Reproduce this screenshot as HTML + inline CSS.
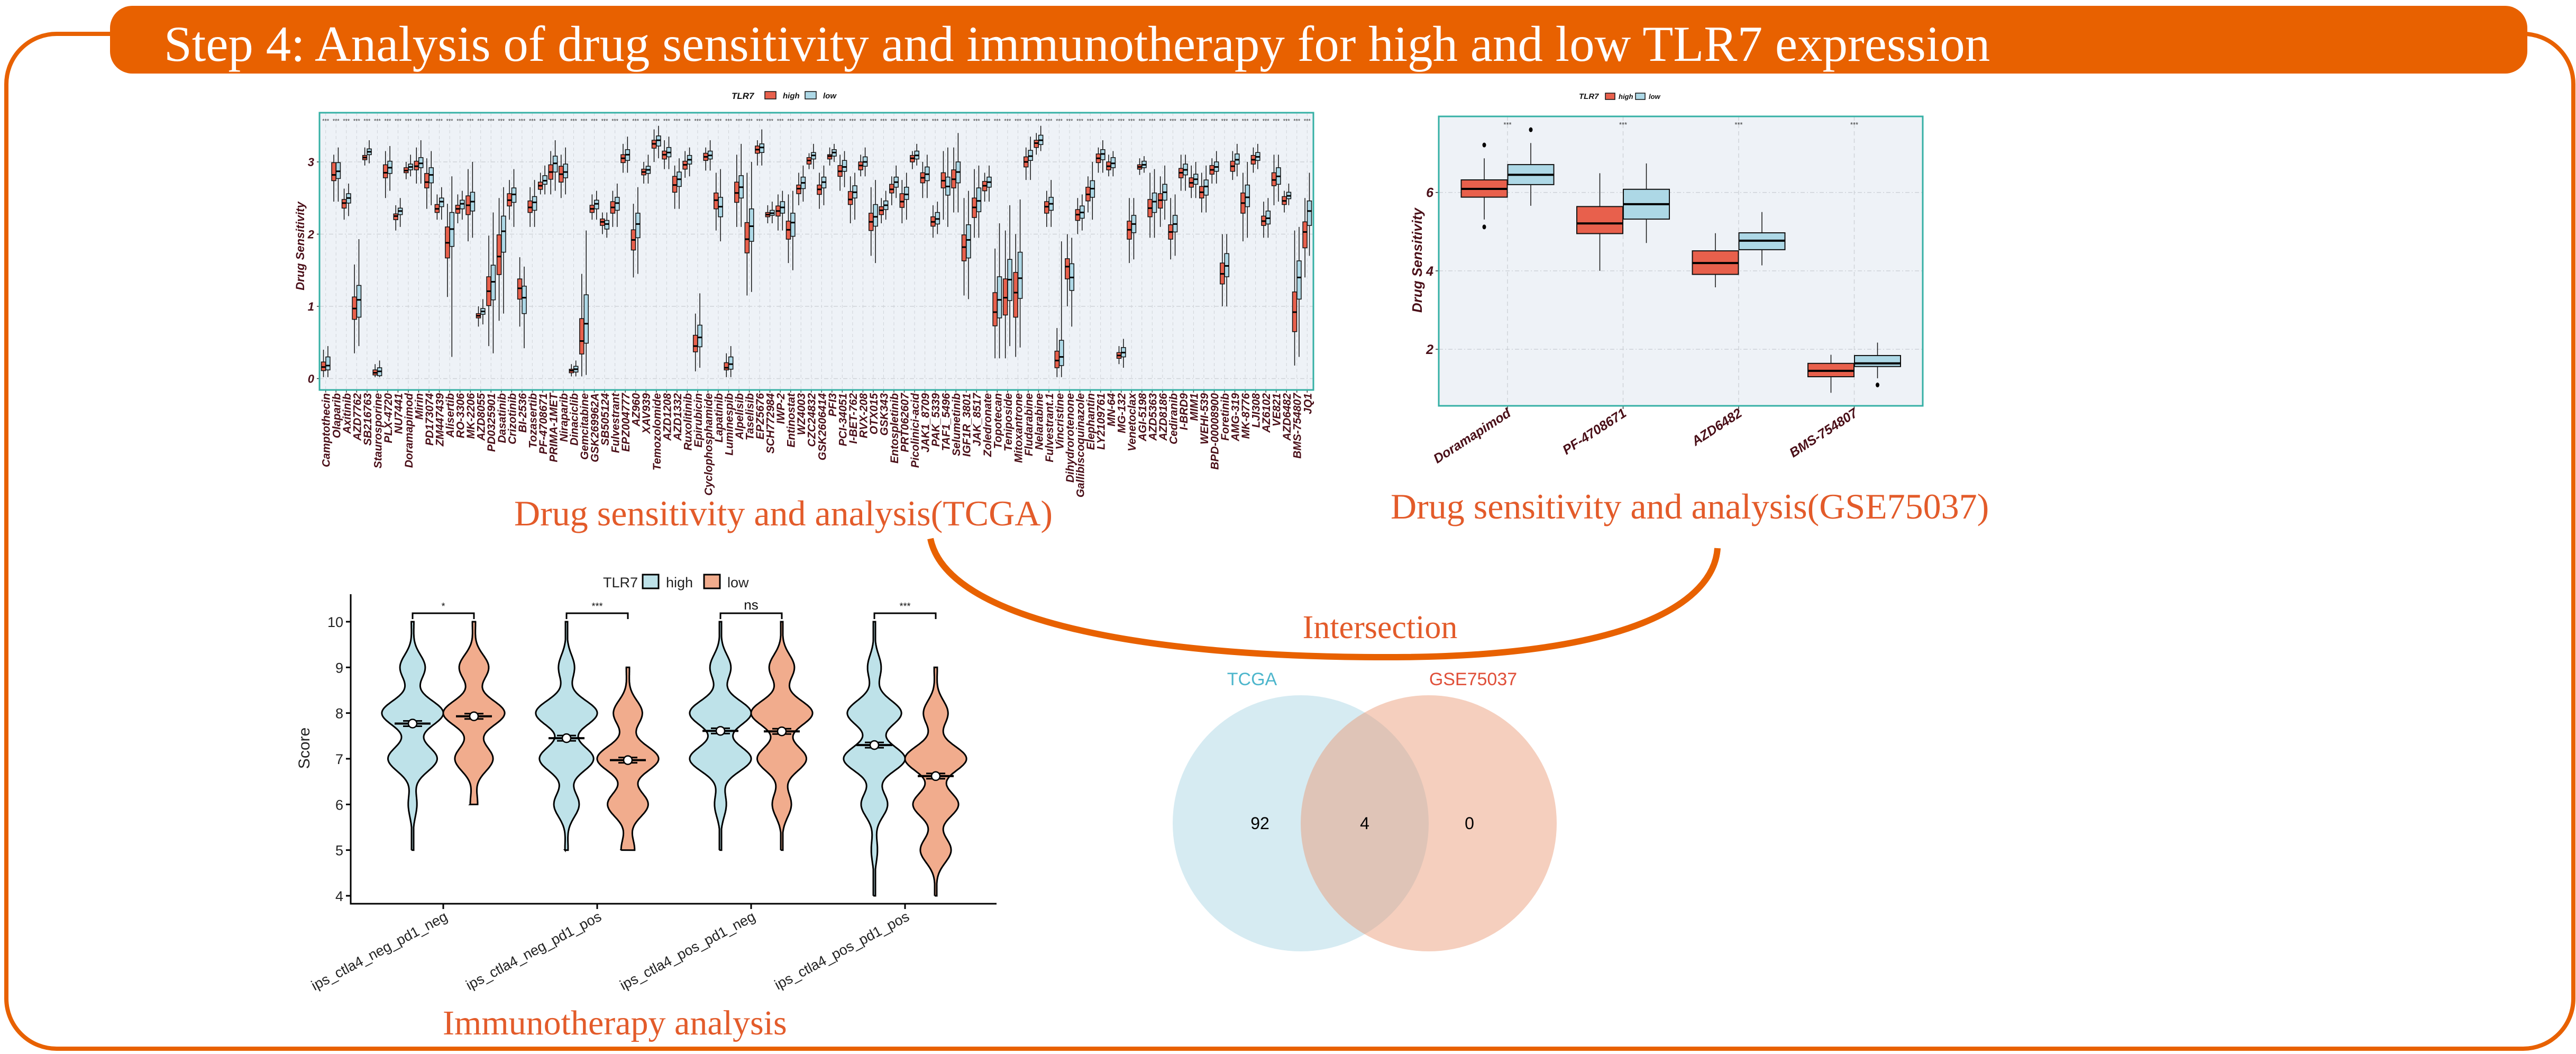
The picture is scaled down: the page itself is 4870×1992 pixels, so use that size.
<!DOCTYPE html>
<html><head><meta charset="utf-8"><title>Step 4 drug sensitivity and immunotherapy</title>
<style>html,body{margin:0;padding:0;background:#fff;}svg{display:block;}</style></head>
<body>
<svg id="fig" xmlns="http://www.w3.org/2000/svg" width="4870" height="1992" viewBox="0 0 4870 1992">
  <rect x="12" y="64" width="4853" height="1918" rx="95" ry="95" fill="none" stroke="#E86100" stroke-width="8"/>
  <rect x="208" y="11" width="4570" height="128" rx="42" ry="42" fill="#E86100"/>
  <text x="310" y="115" font-family="'Liberation Serif', serif" font-size="95" fill="#fff">Step 4: Analysis of drug sensitivity and immunotherapy for high and low TLR7 expression</text>

  <g id="tcga"></g>
  <g id="gse"></g>
  <g id="violin"></g>

  <text x="972" y="993" font-family="'Liberation Serif', serif" font-size="68" fill="#E35B2A">Drug sensitivity and analysis(TCGA)</text>
  <text x="2629" y="980" font-family="'Liberation Serif', serif" font-size="68" fill="#E35B2A">Drug sensitivity and analysis(GSE75037)</text>
  <text x="837" y="1955" font-family="'Liberation Serif', serif" font-size="66" fill="#E35B2A">Immunotherapy analysis</text>

  <path d="M1759,1018 C1790,1170 2150,1244 2640,1242 C3080,1240 3240,1140 3247,1036" fill="none" stroke="#E86100" stroke-width="12"/>
  <text x="2609" y="1206" text-anchor="middle" font-family="'Liberation Serif', serif" font-size="62" fill="#E35B2A">Intersection</text>

  <g>
    <circle cx="2459" cy="1556" r="242" fill="#D6EBF2"/>
    <circle cx="2701" cy="1556" r="242" fill="rgb(233,150,114)" fill-opacity="0.46"/>
    <text x="2367" y="1295" text-anchor="middle" font-family="'Liberation Sans', sans-serif" font-size="34" fill="#4DB6CC">TCGA</text>
    <text x="2785" y="1295" text-anchor="middle" font-family="'Liberation Sans', sans-serif" font-size="34" fill="#E0503A">GSE75037</text>
    <text x="2382" y="1567" text-anchor="middle" font-family="'Liberation Sans', sans-serif" font-size="32" fill="#000">92</text>
    <text x="2580" y="1567" text-anchor="middle" font-family="'Liberation Sans', sans-serif" font-size="32" fill="#000">4</text>
    <text x="2778" y="1567" text-anchor="middle" font-family="'Liberation Sans', sans-serif" font-size="32" fill="#000">0</text>
  </g>
</svg>
<script>
// ---------- TCGA data ----------
const drugs = ["Camptothecin","Olaparib","Axitinib","AZD7762","SB216763","Staurosporine","PLX-4720","NU7441","Doramapimod","Mirin","PD173074","ZM447439","Alisertib","RO-3306","MK-2206","AZD8055","PD0325901","Dasatinib","Crizotinib","BI-2536","Tozasertib","PF-4708671","PRIMA-1MET","Niraparib","Dinaciclib","Gemcitabine","GSK269962A","SB505124","Fulvestrant","EPZ004777","AZ960","XAV939","Temozolomide","AZD1208","AZD1332","Ruxolitinib","Epirubicin","Cyclophosphamide","Lapatinib","Luminespib","Alpelisib","Taselisib","EPZ5676","SCH772984","IWP-2","Entinostat","WZ4003","CZC24832","GSK2606414","PFI3","PCI-34051","I-BET-762","RVX-208","OTX015","GSK343","Entospletinib","PRT062607","Picolinici-acid","JAK1_8709","PAK_5339","TAF1_5496","Selumetinib","IGF1R_3801","JAK_8517","Zoledronate","Topotecan","Teniposide","Mitoxantrone","Fludarabine","Nelarabine","Fulvestrant.1","Vincristine","Dihydrorotenone","Gallibiscoquinazole","Elephantin","LY2109761","MN-64","MG-132","Venetoclax","AGI-5198","AZD5363","AZD8186","Cediranib","I-BRD9","MIM1","WEHI-539","BPD-00008900","Foretinib","AMG-319","MK-8776","LJI308","AZ6102","VE821","AZD6482","BMS-754807","JQ1"];
const highMed = [0.16,2.82,2.43,0.97,3.06,0.08,2.85,2.25,2.88,2.94,2.72,2.35,1.88,2.35,2.4,0.87,1.21,1.69,2.47,1.25,2.37,2.67,2.86,2.83,0.11,0.52,2.35,2.17,2.37,3.05,1.92,2.86,3.25,3.1,2.68,2.96,0.45,3.07,2.47,0.15,2.57,1.93,3.17,2.27,2.32,2.06,2.63,3.02,2.62,3.08,2.87,2.48,2.95,2.17,2.33,2.62,2.45,3.05,2.78,2.17,2.74,2.76,1.82,2.37,2.67,0.92,1.12,1.19,3.0,3.26,2.38,0.25,1.55,2.27,2.55,3.05,2.94,0.32,2.06,2.93,2.36,2.47,2.03,2.85,2.71,2.58,2.89,1.45,2.94,2.43,3.03,2.18,2.75,2.46,0.92,2.03];
const highQ1 = [0.11,2.74,2.36,0.82,3.03,0.05,2.78,2.2,2.85,2.89,2.64,2.3,1.67,2.29,2.27,0.84,1.01,1.44,2.39,1.1,2.3,2.62,2.76,2.72,0.08,0.34,2.3,2.12,2.29,2.99,1.78,2.82,3.19,3.04,2.58,2.9,0.37,3.02,2.35,0.12,2.44,1.74,3.12,2.24,2.25,1.93,2.56,2.97,2.55,3.04,2.8,2.41,2.89,2.05,2.27,2.57,2.37,3.0,2.71,2.11,2.64,2.64,1.63,2.23,2.6,0.73,0.88,0.85,2.93,3.2,2.29,0.15,1.38,2.19,2.46,2.99,2.89,0.28,1.93,2.9,2.24,2.36,1.93,2.78,2.65,2.5,2.83,1.31,2.87,2.29,2.97,2.12,2.67,2.41,0.65,1.81];
const highQ3 = [0.23,2.99,2.48,1.13,3.09,0.12,2.96,2.28,2.92,3.01,2.84,2.41,2.1,2.4,2.53,0.9,1.41,1.99,2.56,1.38,2.46,2.72,2.96,2.94,0.13,0.83,2.4,2.21,2.45,3.1,2.06,2.9,3.3,3.15,2.8,3.01,0.6,3.12,2.57,0.22,2.72,2.16,3.22,2.3,2.39,2.18,2.68,3.06,2.68,3.1,2.95,2.59,3.0,2.29,2.38,2.69,2.56,3.09,2.85,2.24,2.85,2.89,1.99,2.5,2.73,1.19,1.38,1.47,3.07,3.3,2.45,0.38,1.66,2.34,2.65,3.11,3.0,0.36,2.18,2.96,2.48,2.56,2.13,2.91,2.78,2.66,2.95,1.6,3.01,2.57,3.09,2.25,2.85,2.52,1.2,2.17];
const highLo = [0.02,2.45,2.2,0.35,2.95,0.02,2.5,2.05,2.76,2.7,2.35,2.2,1.13,2.15,1.9,0.72,0.45,0.8,2.2,0.72,2.1,2.55,2.55,2.5,0.03,0.03,2.2,2.0,2.1,2.85,1.4,2.7,3.0,2.9,2.35,2.78,0.1,2.88,2.05,0.02,2.1,1.15,2.95,2.15,2.05,1.6,2.4,2.9,2.35,2.95,2.6,2.15,2.8,1.7,2.15,2.4,2.15,2.9,2.5,1.95,2.2,2.3,1.15,1.95,2.45,0.28,0.28,0.3,2.75,3.1,2.1,0.02,1.0,2.0,2.3,2.85,2.8,0.2,1.6,2.82,1.95,2.1,1.65,2.6,2.5,2.3,2.7,1.0,2.75,1.9,2.85,1.95,2.4,2.3,0.18,1.4];
const highHi = [0.4,3.1,2.63,1.58,3.2,0.2,3.15,2.4,3.0,3.2,3.05,2.55,2.42,2.55,2.9,1.0,1.98,2.5,2.75,1.68,2.65,2.85,3.15,3.1,0.2,1.45,2.55,2.3,2.6,3.25,2.42,3.0,3.45,3.3,2.95,3.15,0.9,3.2,2.85,0.35,3.1,2.85,3.3,2.4,2.55,2.55,2.85,3.12,2.85,3.2,3.1,2.8,3.1,2.65,2.5,2.8,2.75,3.15,3.0,2.4,3.15,3.2,2.5,2.9,2.85,1.8,2.05,2.0,3.2,3.4,2.6,0.7,2.0,2.5,2.8,3.2,3.1,0.45,2.5,3.05,2.85,2.8,2.5,3.1,2.95,2.85,3.05,2.0,3.15,2.85,3.2,2.45,3.1,2.6,2.05,2.5];
const lowMed = [0.18,2.87,2.5,1.09,3.14,0.1,2.92,2.32,2.93,2.98,2.82,2.45,2.07,2.42,2.45,0.93,1.34,2.04,2.55,1.12,2.44,2.74,2.98,2.86,0.13,0.76,2.42,2.14,2.43,3.1,2.14,2.89,3.3,3.13,2.76,3.03,0.57,3.09,2.38,0.2,2.65,2.11,3.2,2.29,2.37,2.16,2.71,3.09,2.72,3.13,2.93,2.58,3.0,2.24,2.4,2.72,2.55,3.09,2.83,2.21,2.66,2.86,1.92,2.46,2.72,1.09,1.37,1.39,3.08,3.3,2.42,0.3,1.4,2.3,2.63,3.11,2.98,0.36,2.14,2.96,2.45,2.58,2.14,2.89,2.76,2.66,2.93,1.56,3.03,2.51,3.07,2.22,2.8,2.53,1.4,2.32];
const lowQ1 = [0.12,2.77,2.43,0.85,3.1,0.04,2.84,2.27,2.89,2.92,2.71,2.38,1.83,2.35,2.32,0.89,1.09,1.75,2.44,0.9,2.33,2.69,2.86,2.78,0.09,0.49,2.35,2.07,2.33,3.02,1.95,2.84,3.22,3.07,2.66,2.97,0.44,3.04,2.24,0.13,2.5,1.9,3.13,2.26,2.29,1.97,2.63,3.04,2.64,3.08,2.87,2.5,2.94,2.11,2.34,2.65,2.48,3.04,2.74,2.14,2.54,2.71,1.67,2.31,2.65,0.84,1.08,1.11,3.02,3.24,2.33,0.18,1.22,2.22,2.51,3.03,2.92,0.3,2.02,2.92,2.3,2.47,2.03,2.82,2.69,2.54,2.87,1.41,2.97,2.38,3.02,2.14,2.69,2.49,1.1,2.12];
const lowQ3 = [0.3,2.99,2.56,1.29,3.18,0.15,3.01,2.36,2.97,3.06,2.92,2.5,2.3,2.47,2.58,0.97,1.57,2.25,2.64,1.28,2.52,2.81,3.08,2.97,0.17,1.16,2.47,2.19,2.51,3.17,2.29,2.94,3.36,3.2,2.86,3.09,0.74,3.15,2.51,0.3,2.81,2.35,3.25,2.33,2.45,2.29,2.79,3.13,2.79,3.17,3.02,2.67,3.07,2.41,2.46,2.79,2.65,3.15,2.93,2.3,2.79,3.0,2.13,2.64,2.79,1.41,1.65,1.75,3.16,3.37,2.51,0.53,1.59,2.39,2.74,3.17,3.06,0.43,2.26,3.01,2.57,2.69,2.26,2.97,2.83,2.75,3.0,1.73,3.11,2.68,3.13,2.32,2.92,2.58,1.63,2.46];
const lowLo = [0.02,2.45,2.25,0.45,2.98,0.02,2.6,2.1,2.8,2.7,2.4,2.2,0.3,2.2,1.95,0.75,0.35,0.9,2.1,0.42,2.1,2.55,2.6,2.55,0.03,0.05,2.2,1.95,2.1,2.85,1.45,2.7,3.05,2.9,2.35,2.8,0.15,2.88,1.9,0.02,2.1,1.2,2.95,2.15,2.05,1.5,2.45,2.9,2.4,3.0,2.65,2.2,2.8,1.6,2.2,2.5,2.2,2.95,2.5,2.0,2.1,2.3,1.1,1.95,2.45,0.28,0.45,0.43,2.75,3.15,2.1,0.02,0.72,2.05,2.2,2.85,2.8,0.15,1.65,2.85,1.95,2.2,1.7,2.6,2.5,2.3,2.7,1.0,2.8,1.95,2.9,1.95,2.45,2.4,0.3,1.7];
const lowHi = [0.45,3.2,2.7,1.93,3.3,0.25,3.22,2.5,3.1,3.3,3.15,2.65,2.8,2.6,3.0,1.1,2.3,2.65,2.9,1.55,2.75,2.95,3.3,3.2,0.25,2.05,2.6,2.3,2.7,3.35,2.65,3.1,3.5,3.35,3.05,3.2,1.18,3.3,2.9,0.45,3.25,3.0,3.45,2.45,2.6,2.6,2.95,3.25,2.95,3.25,3.15,2.85,3.2,2.75,2.6,2.95,2.85,3.25,3.1,2.45,3.2,3.4,2.6,2.95,2.95,2.15,2.4,2.48,3.35,3.5,2.75,1.9,1.95,2.55,3.0,3.3,3.15,0.55,2.5,3.08,2.9,2.95,2.55,3.1,3.0,2.95,3.15,2.0,3.25,3.0,3.25,2.5,3.1,2.7,2.1,2.85];
const tcgaTicks = [0,1,2,3];

// ---------- GSE75037 data ----------
const gseDrugs = ["Doramapimod","PF-4708671","AZD6482","BMS-754807"];
const gHighLo = [5.31,4.0,3.58,0.89], gHighQ1 = [5.88,4.95,3.91,1.3], gHighMed = [6.09,5.21,4.2,1.45], gHighQ3 = [6.32,5.64,4.51,1.64], gHighHi = [6.87,6.49,4.96,1.86];
const gLowLo = [5.66,4.71,4.14,1.26], gLowQ1 = [6.2,5.32,4.54,1.56], gLowMed = [6.45,5.7,4.77,1.64], gLowQ3 = [6.71,6.08,4.97,1.84], gLowHi = [7.26,6.74,5.5,2.17];
const gHighOut = [[7.21,5.12],[],[],[]], gLowOut = [[7.6],[],[],[1.09]];
const gseTicks = [2,4,6];

// ---------- Violin data ----------
const ipsGroups = ["ips_ctla4_neg_pd1_neg","ips_ctla4_neg_pd1_pos","ips_ctla4_pos_pd1_neg","ips_ctla4_pos_pd1_pos"];
const scoreLevels = [4,5,6,7,8,9,10];
const densHigh = [[0,0.03,0.14,0.8,1,0.41,0.04],[0,0.05,0.41,0.88,1,0.26,0.03],[0,0.02,0.19,1,1,0.34,0.03],[0.02,0.1,0.43,1,0.88,0.22,0.03]];
const densLow  = [[0,0,0.12,0.62,1,0.48,0.05],[0,0.22,0.66,1,0.47,0.05,0],[0,0.02,0.31,0.8,1,0.41,0.03],[0.03,0.5,0.74,1,0.4,0.05,0]];
const rangeHigh = [[5,10],[5,10],[5,10],[4,10]];
const rangeLow  = [[6,10],[5,9],[5,10],[4,9]];
const meanHigh = [7.77,7.45,7.61,7.3];
const meanLow  = [7.93,6.97,7.6,6.62];
const sigLabels = ["*","***","ns","***"];
const scoreTicks = [4,5,6,7,8,9,10];

const NS = "http://www.w3.org/2000/svg";
function mk(tag, attrs, parent){ const e=document.createElementNS(NS,tag); for(const k in attrs) e.setAttribute(k,attrs[k]); parent.appendChild(e); return e; }
const RED="#E8604C", BLUE="#ADD8E6", MAROON="#4A0F18";

// ===== TCGA boxplot =====
(function(){
  const g=document.getElementById("tcga");
  const L=604,R=2483,T=213,B=737;
  const n=drugs.length, step=(R-L)/(n+0.2);
  const xs=i=>L+(i+0.6)*step;
  const ys=v=>715.5-136.5*v;
  let e=mk("rect",{x:L,y:T,width:R-L,height:B-T,fill:"#EEF2F7"},g);
   
  tcgaTicks.forEach(t=>{
    let l=mk("line",{x1:L,x2:R,y1:ys(t),y2:ys(t),stroke:"#cfd3d8","stroke-width":1.5,"stroke-dasharray":"8,4,2,4"},g);
     
    let tk=mk("line",{x1:L-5,x2:L,y1:ys(t),y2:ys(t),stroke:"#333","stroke-width":1.5},g);
     
    let tx=mk("text",{x:L-10,y:ys(t)+8,"text-anchor":"end","font-family":"'Liberation Sans',sans-serif","font-size":22,"font-weight":"bold","font-style":"italic",fill:MAROON},g);
    tx.textContent=t;  
  });
  drugs.forEach((d,i)=>{
    const cx=xs(i);
    let gl=mk("line",{x1:cx,x2:cx,y1:T,y2:B,stroke:"#cfd3d8","stroke-width":1,"stroke-dasharray":"6,5"},g);
     
    let st=mk("text",{x:cx,y:232,"text-anchor":"middle","font-family":"'Liberation Sans',sans-serif","font-size":11,fill:"#333"},g);
    st.textContent="***";  
    const sets=[[highLo,highQ1,highMed,highQ3,highHi,RED,-4.2,'high'],[lowLo,lowQ1,lowMed,lowQ3,lowHi,BLUE,4.2,'low']];
    sets.forEach(s=>{
      const bx=cx+s[6], w=8;
      let wh=mk("line",{x1:bx,x2:bx,y1:ys(s[4][i]),y2:ys(s[0][i]),stroke:"#111","stroke-width":1.5},g);
       
      let bb=mk("rect",{x:bx-w/2,y:ys(s[3][i]),width:w,height:Math.max(1,ys(s[1][i])-ys(s[3][i])),fill:s[5],stroke:"#111","stroke-width":1.5},g);
       
      let md=mk("line",{x1:bx-w/2,x2:bx+w/2,y1:ys(s[2][i]),y2:ys(s[2][i]),stroke:"#000","stroke-width":3},g);
       
    });
    let tk=mk("line",{x1:cx,x2:cx,y1:B,y2:B+5,stroke:"#333","stroke-width":1.5},g);
     
    let lb=mk("text",{x:0,y:0,transform:`translate(${cx+8},${B+6}) rotate(-90)`,"text-anchor":"end","font-family":"'Liberation Sans',sans-serif","font-size":21,"font-weight":"bold","font-style":"italic",fill:MAROON},g);
    lb.textContent=d;  
  });
  let fr=mk("rect",{x:L,y:T,width:R-L,height:B-T,fill:"none",stroke:"#35B0A5","stroke-width":3},g);
   
  let yl=mk("text",{x:0,y:0,transform:`translate(575,465) rotate(-90)`,"text-anchor":"middle","font-family":"'Liberation Sans',sans-serif","font-size":22,"font-weight":"bold","font-style":"italic",fill:MAROON},g);
  yl.textContent="Drug Sensitivity";  
  let lt=mk("text",{x:1383,y:187,"font-family":"'Liberation Sans',sans-serif","font-size":17,"font-weight":"bold","font-style":"italic",fill:"#111"},g);
  lt.textContent="TLR7";  
  [[1446,RED,'high',1480],[1522,BLUE,'low',1556]].forEach(s=>{
    let r=mk("rect",{x:s[0],y:173,width:21,height:14,fill:s[1],stroke:"#111","stroke-width":1.5},g);
     
    let t=mk("text",{x:s[3],y:186,"font-family":"'Liberation Sans',sans-serif","font-size":15,"font-weight":"bold","font-style":"italic",fill:"#111"},g);
    t.textContent=s[2];  
  });
})();

// ===== GSE boxplot =====
(function(){
  const g=document.getElementById("gse");
  const L=2720,R=3635,T=220,B=767;
  const xs=i=>2850+i*218.5;
  const ys=v=>363.7+(6-v)*74.1;
  let e=mk("rect",{x:L,y:T,width:R-L,height:B-T,fill:"#EEF2F7"},g);
   
  gseTicks.forEach(t=>{
    let l=mk("line",{x1:L,x2:R,y1:ys(t),y2:ys(t),stroke:"#cfd3d8","stroke-width":1.5,"stroke-dasharray":"8,4,2,4"},g);
     
    let tk=mk("line",{x1:L-6,x2:L,y1:ys(t),y2:ys(t),stroke:"#333","stroke-width":1.5},g);
     
    let tx=mk("text",{x:L-10,y:ys(t)+9,"text-anchor":"end","font-family":"'Liberation Sans',sans-serif","font-size":25,"font-weight":"bold","font-style":"italic",fill:MAROON},g);
    tx.textContent=t;  
  });
  gseDrugs.forEach((d,i)=>{
    const cx=xs(i);
    let gl=mk("line",{x1:cx,x2:cx,y1:T,y2:B,stroke:"#cfd3d8","stroke-width":1.5,"stroke-dasharray":"8,6"},g);
     
    let st=mk("text",{x:cx,y:240,"text-anchor":"middle","font-family":"'Liberation Sans',sans-serif","font-size":13,fill:"#333"},g);
    st.textContent="***";  
    const sets=[[gHighLo,gHighQ1,gHighMed,gHighQ3,gHighHi,RED,-44,'high',gHighOut],[gLowLo,gLowQ1,gLowMed,gLowQ3,gLowHi,BLUE,44,'low',gLowOut]];
    sets.forEach(s=>{
      const bx=cx+s[6], w=87;
      let wh=mk("line",{x1:bx,x2:bx,y1:ys(s[4][i]),y2:ys(s[0][i]),stroke:"#111","stroke-width":1.5},g);
       
      let bb=mk("rect",{x:bx-w/2,y:ys(s[3][i]),width:w,height:ys(s[1][i])-ys(s[3][i]),fill:s[5],stroke:"#111","stroke-width":2},g);
       
      let md=mk("line",{x1:bx-w/2,x2:bx+w/2,y1:ys(s[2][i]),y2:ys(s[2][i]),stroke:"#000","stroke-width":4},g);
       
      s[8][i].forEach(o=>{
        let c=mk("ellipse",{cx:bx,cy:ys(o),rx:3.5,ry:4.5,fill:"#000"},g);
         
      });
    });
    let tk=mk("line",{x1:cx,x2:cx,y1:B,y2:B+6,stroke:"#333","stroke-width":1.5},g);
     
    let lb=mk("text",{x:0,y:0,transform:`translate(${cx+8},${B+18}) rotate(-33)`,"text-anchor":"end","font-family":"'Liberation Sans',sans-serif","font-size":25,"font-weight":"bold","font-style":"italic",fill:MAROON},g);
    lb.textContent=d;  
  });
  let fr=mk("rect",{x:L,y:T,width:R-L,height:B-T,fill:"none",stroke:"#35B0A5","stroke-width":3},g);
   
  let yl=mk("text",{x:0,y:0,transform:`translate(2688,492) rotate(-90)`,"text-anchor":"middle","font-family":"'Liberation Sans',sans-serif","font-size":26,"font-weight":"bold","font-style":"italic",fill:MAROON},g);
  yl.textContent="Drug Sensitivity";  
  let lt=mk("text",{x:2985,y:187,"font-family":"'Liberation Sans',sans-serif","font-size":15,"font-weight":"bold","font-style":"italic",fill:"#111"},g);
  lt.textContent="TLR7";  
  [[3035,RED,'high',3060],[3092,BLUE,'low',3117]].forEach(s=>{
    let r=mk("rect",{x:s[0],y:176,width:18,height:12,fill:s[1],stroke:"#111","stroke-width":1.5},g);
     
    let t=mk("text",{x:s[3],y:187,"font-family":"'Liberation Sans',sans-serif","font-size":13,"font-weight":"bold","font-style":"italic",fill:"#111"},g);
    t.textContent=s[2];  
  });
})();

// ===== Violin plot =====
(function(){
  const g=document.getElementById("violin");
  const L=663,B=1708,R=1884,T=1123;
  const ys=v=>1175+(10-v)*86.33;
  const xc=i=>838+i*291;
  const maxHalf=58, sig=0.28;
  function half(dens,y){ let s=0; scoreLevels.forEach((k,j)=>{ s+=dens[j]*Math.exp(-((y-k)*(y-k))/(2*sig*sig)); }); return Math.max(2,s*maxHalf); }
  function violinPath(cx,dens,rg){
    const pts=[]; for(let y=rg[0]; y<=rg[1]+1e-9; y+=0.02) pts.push([y,half(dens,y)]);
    let d="M"+(cx-pts[0][1])+","+ys(pts[0][0]);
    pts.forEach(p=>{ d+=" L"+(cx-p[1]).toFixed(1)+","+ys(p[0]).toFixed(1); });
    for(let k=pts.length-1;k>=0;k--){ d+=" L"+(cx+pts[k][1]).toFixed(1)+","+ys(pts[k][0]).toFixed(1); }
    return d+" Z";
  }
  scoreTicks.forEach(t=>{
    let tk=mk("line",{x1:L-9,x2:L,y1:ys(t),y2:ys(t),stroke:"#000","stroke-width":3},g);
     
    let tx=mk("text",{x:L-14,y:ys(t)+10,"text-anchor":"end","font-family":"'Liberation Sans',sans-serif","font-size":27,fill:"#222"},g);
    tx.textContent=t;  
  });
  ipsGroups.forEach((name,i)=>{
    const hx=xc(i)-58, lx=xc(i)+58;
    let vh=mk("path",{d:violinPath(hx,densHigh[i],rangeHigh[i]),fill:"#BEE2E9",stroke:"#000","stroke-width":3},g);
     
    let vl=mk("path",{d:violinPath(lx,densLow[i],rangeLow[i]),fill:"#F1AC8D",stroke:"#000","stroke-width":3},g);
     
    [[hx,meanHigh[i],'high'],[lx,meanLow[i],'low']].forEach(m=>{
      const y=ys(m[1]);
      let eb=mk("path",{d:`M${m[0]-18},${y-5} H${m[0]+18} M${m[0]},${y-5} V${y+5} M${m[0]-18},${y+5} H${m[0]+18}`,stroke:"#000","stroke-width":3,fill:"none"},g);
       
      let hb=mk("line",{x1:m[0]-34,x2:m[0]+34,y1:y,y2:y,stroke:"#000","stroke-width":4},g);
       
      let c=mk("circle",{cx:m[0],cy:y,r:8,fill:"#fff",stroke:"#000","stroke-width":2.5},g);
       
    });
    let br=mk("path",{d:`M${hx},1170 V1159 H${lx} V1170`,stroke:"#000","stroke-width":3,fill:"none"},g);
     
    let sl=mk("text",{x:xc(i),y:1152,"text-anchor":"middle","font-family":"'Liberation Sans',sans-serif","font-size":sigLabels[i]==="ns"?26:18,fill:"#111"},g);
    sl.textContent=sigLabels[i];  
    let tk=mk("line",{x1:xc(i),x2:xc(i),y1:B,y2:B+10,stroke:"#000","stroke-width":3},g);
     
    let lb=mk("text",{x:0,y:0,transform:`translate(${xc(i)+10},${B+30}) rotate(-28)`,"text-anchor":"end","font-family":"'Liberation Sans',sans-serif","font-size":27,fill:"#222"},g);
    lb.textContent=name;  
  });
  let ax=mk("path",{d:`M${L},${T} V${B} H${R}`,stroke:"#000","stroke-width":3,fill:"none"},g);
   
  let yl=mk("text",{x:0,y:0,transform:`translate(585,1414) rotate(-90)`,"text-anchor":"middle","font-family":"'Liberation Sans',sans-serif","font-size":30,fill:"#222"},g);
  yl.textContent="Score";  
  let lt=mk("text",{x:1140,y:1110,"font-family":"'Liberation Sans',sans-serif","font-size":27,fill:"#222"},g);
  lt.textContent="TLR7";  
  [[1215,"#BEE2E9",'high',1259],[1331,"#F1AC8D",'low',1375]].forEach(s=>{
    let r=mk("rect",{x:s[0],y:1086,width:30,height:26,fill:s[1],stroke:"#000","stroke-width":3},g);
     
    let t=mk("text",{x:s[3],y:1110,"font-family":"'Liberation Sans',sans-serif","font-size":27,fill:"#222"},g);
    t.textContent=s[2];  
  });
})();
</script>
</body></html>
